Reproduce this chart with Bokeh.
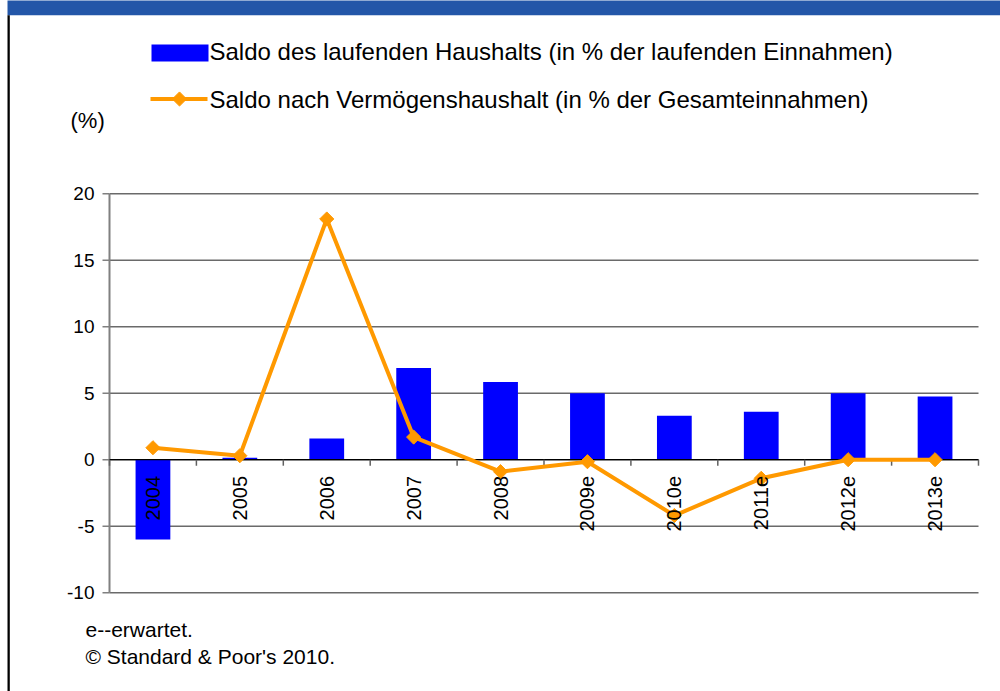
import numpy as np
from bokeh.plotting import figure
from bokeh.models import Range1d
from bokeh.core.properties import value
from bokeh.embed import file_html
from bokeh.resources import INLINE

# ---- data ----
years = ["2004", "2005", "2006", "2007", "2008", "2009e", "2010e", "2011e", "2012e", "2013e"]
saldo_laufend = [-6.0, 0.15, 1.6, 6.9, 5.85, 5.0, 3.3, 3.6, 5.0, 4.75]
saldo_vermoegen = [0.9, 0.3, 18.1, 1.7, -0.9, -0.15, -4.2, -1.4, 0.0, 0.0]
y_ticks = [-10, -5, 0, 5, 10, 15, 20]
y_tick_labels = ["-10", "-5", "0", "5", "10", "15", "20"]
series_names = [
    "Saldo des laufenden Haushalts (in % der laufenden Einnahmen)",
    "Saldo nach Vermögenshaushalt (in % der Gesamteinnahmen)",
]
unit_label = "(%)"
footnotes = ["e--erwartet.", "© Standard & Poor's 2010."]

# ---- layout: page pixel -> data coordinates ----
W, H = 1000, 691
X0_PX, CAT_PX = 109.0, 86.9      # x of first category boundary, width of a category
Y0_PX, UNIT_PX = 459.2, 13.3     # y of value 0, pixels per percentage point


def dx(px):
    return (px - X0_PX) / CAT_PX


def dy(py):
    return (Y0_PX - py) / UNIT_PX


FONT = value("Liberation Sans")
BLUE = "#0000FF"
ORANGE = "#FF9900"
GRID = "#6a6a6a"
AXIS = "#808080"

n = len(years)
xc = np.arange(n) + 0.5
bounds = np.arange(n + 1)
ymin, ymax = min(y_ticks), max(y_ticks)

p = figure(
    width=W, height=H, output_backend="svg", toolbar_location=None,
    x_range=Range1d(dx(0), dx(W)), y_range=Range1d(dy(H), dy(0)),
    x_axis_location=None, y_axis_location=None,
    min_border_left=0, min_border_right=0, min_border_top=0, min_border_bottom=0,
    outline_line_color=None, background_fill_color="white", border_fill_color="white",
)
p.grid.visible = False

# header band and left border line
p.quad(left=[dx(7)], right=[dx(W + 5)], top=[dy(-5)], bottom=[dy(14.7)],
       fill_color="#2356A8", line_color=None)
p.quad(left=[dx(7)], right=[dx(9.3)], top=[dy(14.7)], bottom=[dy(H + 5)],
       fill_color="black", line_color=None)

# horizontal gridlines
p.segment(x0=np.zeros(len(y_ticks)), y0=y_ticks, x1=np.full(len(y_ticks), n), y1=y_ticks,
          line_color=GRID, line_width=1.5)

# y axis: line, ticks, labels
p.segment(x0=[0], y0=[ymin], x1=[0], y1=[ymax], line_color=AXIS, line_width=2)
p.segment(x0=np.full(len(y_ticks), -7 / CAT_PX), y0=y_ticks, x1=np.zeros(len(y_ticks)), y1=y_ticks,
          line_color=AXIS, line_width=1.5)
p.text(x=np.full(len(y_ticks), -15 / CAT_PX), y=y_ticks, text=y_tick_labels,
       text_align="right", text_baseline="middle",
       text_font=FONT, text_font_size="19px", text_color="black")

# bars
p.vbar(x=xc, top=saldo_laufend, width=0.4, fill_color=BLUE, line_color=None)

# zero line & category ticks
p.segment(x0=[0], y0=[0], x1=[n], y1=[0], line_color="black", line_width=1.2)
p.segment(x0=bounds, y0=np.zeros(n + 1), x1=bounds, y1=np.full(n + 1, -6 / UNIT_PX),
          line_color="#606060", line_width=1.5)

# line series
p.line(x=xc, y=saldo_vermoegen, line_color=ORANGE, line_width=4)
p.scatter(x=xc, y=saldo_vermoegen, marker="square", angle=np.pi / 4, size=10,
          fill_color=ORANGE, line_color=ORANGE)

# category labels (rotated)
p.text(x=xc, y=np.full(n, dy(475.5)), text=years, angle=np.pi / 2,
       text_align="right", text_baseline="middle",
       text_font=FONT, text_font_size="20px", text_color="black")

# legend
p.quad(left=[dx(151)], right=[dx(208)], top=[dy(44)], bottom=[dy(61)], fill_color=BLUE, line_color=None)
p.line(x=[dx(150), dx(207)], y=[dy(98.5), dy(98.5)], line_color=ORANGE, line_width=4)
p.scatter(x=[dx(179)], y=[dy(98.5)], marker="square", angle=np.pi / 4, size=10,
          fill_color=ORANGE, line_color=ORANGE)
p.text(x=[dx(209), dx(209)], y=[dy(51), dy(98.5)], text=series_names,
       text_align="left", text_baseline="middle",
       text_font=FONT, text_font_size="24px", text_color="black")

# unit label and footnotes
p.text(x=[dx(70)], y=[dy(119.5)], text=[unit_label], text_align="left", text_baseline="middle",
       text_font=FONT, text_font_size="22px", text_color="black")
p.text(x=[dx(85), dx(85)], y=[dy(628.5), dy(656)], text=footnotes,
       text_align="left", text_baseline="middle",
       text_font=FONT, text_font_size="21px", text_color="black")

open("out.html", "w").write(file_html(p, INLINE))
